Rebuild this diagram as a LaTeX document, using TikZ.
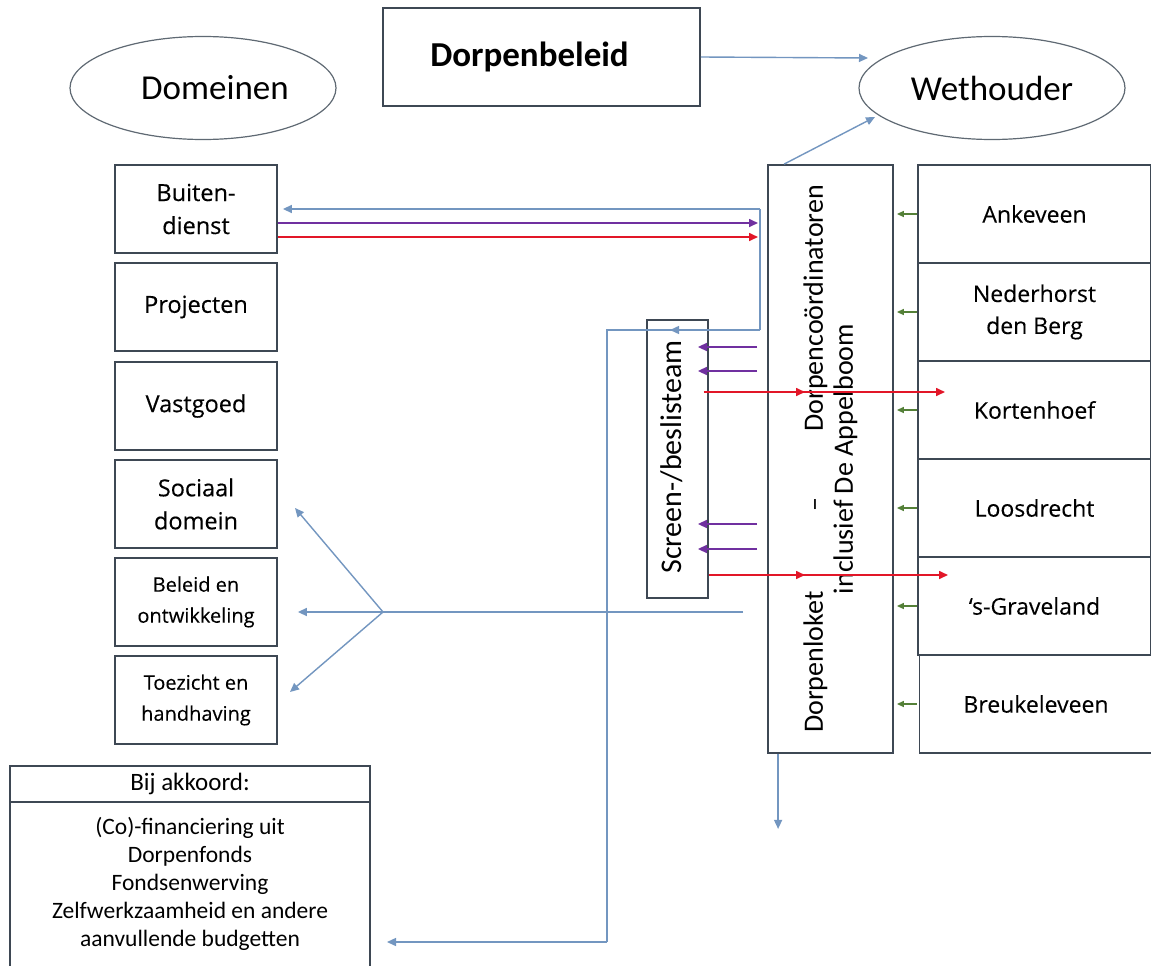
\documentclass[tikz,border=0pt]{standalone}
\usepackage{fontspec}
\setmainfont{Carlito}
\newfontfamily\segfont[FakeBold=0.35]{Open Sans}
\newfontfamily\seglight[FakeBold=0.15]{Open Sans}
\usetikzlibrary{shapes.geometric,arrows.meta}
\definecolor{boxline}{RGB}{62,72,84}
\definecolor{ellline}{RGB}{95,105,115}
\definecolor{bluec}{RGB}{115,150,192}
\definecolor{purc}{RGB}{112,48,160}
\definecolor{redc}{RGB}{226,22,40}
\definecolor{grnc}{RGB}{84,128,56}
\begin{document}
\begin{tikzpicture}[x=1pt,y=-1pt,
  ell/.style={ellipse,draw=ellline,line width=1.2pt,minimum width=266pt,minimum height=103pt,inner sep=0pt,font=\fontsize{35}{42}\selectfont},
  box/.style={draw=boxline,line width=1.8pt,fill=white,align=center,inner sep=0pt},
  lbox/.style={box,minimum width=162pt,minimum height=88pt,font=\segfont\fontsize{23.5}{33}\selectfont},
  lsmall/.style={lbox,font=\seglight\fontsize{20}{31}\selectfont},
  rbox/.style={box,minimum width=233pt,minimum height=98pt,font=\seglight\fontsize{23}{32}\selectfont},
  tip/.style={-{Triangle[length=9pt,width=8pt]}},
  bluearr/.style={draw=bluec,line width=1.4pt,tip},
  blueln/.style={draw=bluec,line width=1.4pt},
  purarr/.style={draw=purc,line width=1.6pt,tip},
  redarr/.style={draw=redc,line width=1.6pt,tip},
  grnarr/.style={draw=grnc,line width=1.4pt,-{Triangle[length=7pt,width=6pt]}}
]
\useasboundingbox (0,0) rectangle (1151,966);
\fill[white] (0,0) rectangle (1151,966);

% top
\node[ell] (dom) at (203,88) {\hspace*{24pt}Domeinen};
\node[box,minimum width=317pt,minimum height=98pt,font=\bfseries\fontsize{35}{42}\selectfont] (db) at (541.5,57) {Dorpenbeleid\hspace*{24pt}};
\node[ell] (weth) at (992,88) {Wethouder};

% left column
\node[lbox] (bd) at (196,209) {Buiten-\\dienst};
\node[lbox] (pr) at (196,307) {Projecten};
\node[lbox] (vg) at (196,406) {Vastgoed};
\node[lbox] (sd) at (196,504) {Sociaal\\domein};
\node[lsmall] (be) at (196,602) {Beleid en\\ontwikkeling};
\node[lsmall] (th) at (196,700) {Toezicht en\\handhaving};

% center boxes
\node[box,minimum width=125pt,minimum height=588pt] (cb) at (830.5,459) {};
\node[rotate=90,align=center,font=\fontsize{28}{30}\selectfont] (cbt) at (cb.center) {Dorpenloket\hspace{80pt}–\hspace{66pt}Dorpencoördinatoren\hspace{16pt}\\inclusief De Appelboom};
\node[box,minimum width=61pt,minimum height=278pt] (sb) at (677.5,459) {};
\node[rotate=90,font=\fontsize{30}{34}\selectfont] (sbt) at ([xshift=-6pt,yshift=2pt]sb.center) {Screen-/beslisteam};

% right column
\node[rbox] (r1) at (1034.5,214) {Ankeveen};
\node[rbox] (r2) at (1034.5,312) {Nederhorst\\den Berg};
\node[rbox] (r3) at (1034.5,410) {Kortenhoef};
\node[rbox] (r4) at (1034.5,508) {Loosdrecht};
\node[rbox] (r5) at (1034.5,606) {‘s-Graveland};
\node[rbox] (r6) at (1036,704) {Breukeleveen};

% bottom box
\node[box,outer sep=0pt,minimum width=360pt,minimum height=36pt,font=\fontsize{25}{30}\selectfont] (bkh) at (190,784) {Bij akkoord:};
\node[box,outer sep=0pt,minimum width=360pt,minimum height=170pt,anchor=north] (bk) at (bkh.south) {};
\draw[boxline,line width=1.8pt] (bkh.south west) -- (bkh.south east);
\node[align=center,font=\fontsize{23.5}{28}\selectfont,inner sep=0pt] (bkt) at (190,884) {(Co)-financiering uit\\Dorpenfonds\\Fondsenwerving\\Zelfwerkzaamheid en andere\\aanvullende budgetten};

% coordinates
\coordinate (wl) at (868,58);
\coordinate (wb) at (875,117);
\coordinate (c1) at (760,209);
\coordinate (c2) at (760,330);
\coordinate (c3) at (607,330);
\coordinate (c4) at (607,942);
\coordinate (sbtip) at (670,330);
\coordinate (p1) at (758,223);
\coordinate (p2) at (758,237);
\coordinate (j) at (383,612);
\coordinate (js) at (743,612);
\coordinate (sdtip) at (295,508);
\coordinate (thtip) at (290,692);

% connectors
\draw[bluearr] (db.east) -- (wl);
\draw[bluearr] ([xshift=17pt]cb.north west) -- (wb);
\draw[blueln] (c2) -- (c1);
\draw[bluearr,shorten >=5pt] (c1) -- (bd.east |- c1);
\draw[blueln] (c2) -- (c3) -- (c4);
\draw[bluearr] (c2) -- (sbtip);
\draw[bluearr,shorten >=17pt] (c4) -- (bk.east |- c4);
\draw[purarr] (bd.east |- p1) -- (p1);
\draw[redarr] (bd.east |- p2) -- (p2);

\foreach \yy in {347,371,524,549}{
  \draw[purarr] ([xshift=-10pt]cb.west |- 0,\yy) -- ([xshift=-11pt]sb.east |- 0,\yy);
}
\draw[redarr] ([xshift=-5pt]sb.east |- 0,392) -- (805,392);
\draw[redarr] ([xshift=-5pt]sb.east |- 0,392) -- (945,392);
\draw[redarr] (sb.east |- 0,575) -- (805,575);
\draw[redarr] (sb.east |- 0,575) -- (948,575);

\foreach \r in {r1,r2,r3,r4,r5}{
  \draw[grnarr] (\r.west) -- ([xshift=3pt]cb.east |- \r.west);
}
\draw[grnarr] ([xshift=-2pt]r6.west) -- ([xshift=3pt]cb.east |- r6.west);

\draw[blueln] (js) -- (j);
\draw[bluearr,shorten >=20pt] (j) -- (be.east |- j);
\draw[bluearr] (j) -- (sdtip);
\draw[bluearr] (j) -- (thtip);
\draw[bluearr] ([xshift=11pt]cb.south west) -- ++(0,75);
\end{tikzpicture}
\end{document}
